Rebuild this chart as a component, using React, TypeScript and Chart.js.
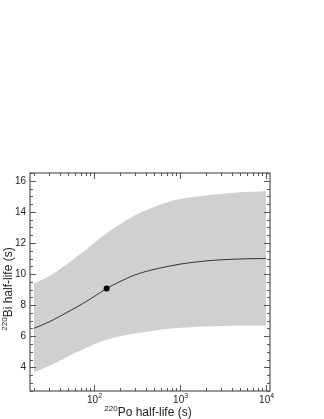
import React, { useEffect, useRef } from "react";
import { Chart, registerables } from "chart.js";

Chart.register(...registerables);

// Po-220 half-life (s), x positions of the curves
const xValues = [20, 30, 40, 55, 75, 100, 140, 200, 300, 450, 700, 1000, 1500, 2500, 4000, 6500, 10000];
// Bi-220 half-life (s): central curve and band limits
const centerValues = [6.51, 6.92, 7.28, 7.7, 8.12, 8.55, 9.07, 9.52, 9.95, 10.24, 10.48, 10.64, 10.77, 10.89, 10.95, 10.99, 11.0];
const upperValues = [9.4, 9.86, 10.31, 10.88, 11.43, 12.0, 12.62, 13.21, 13.78, 14.22, 14.61, 14.82, 14.97, 15.12, 15.22, 15.29, 15.34];
const lowerValues = [3.68, 4.08, 4.42, 4.83, 5.17, 5.49, 5.78, 6.0, 6.18, 6.32, 6.46, 6.54, 6.6, 6.65, 6.68, 6.69, 6.7];
// marked point
const markX = [140];
const markY = [9.07];
// ticks
const yTickValues = [4, 6, 8, 10, 12, 14, 16];
const xMajorTicks = [100, 1000, 10000];
const xMajorLabelBase = ["10", "10", "10"];
const xMajorLabelExp = ["2", "3", "4"];
const yTitleSup = "220";
const yTitleMain = "Bi half-life (s)";
const xTitleSup = "220";
const xTitleMain = "Po half-life (s)";

const FONT = "'Liberation Sans', Arial, Helvetica, sans-serif";

export default function App() {
  const ref = useRef<HTMLCanvasElement | null>(null);

  useEffect(() => {
    const canvas = ref.current;
    if (!canvas) return;

    const framePlugin = {
      id: "frame",
      afterDraw(chart: any) {
        const ctx = chart.ctx as CanvasRenderingContext2D;
        const { left, right, top, bottom } = chart.chartArea;
        const xs = chart.scales.x;
        const ys = chart.scales.y;
        ctx.save();
        ctx.strokeStyle = "#555";
        ctx.lineWidth = 1.2;
        ctx.strokeRect(left, top, right - left, bottom - top);
        ctx.lineWidth = 1;
        // y ticks
        const yMin = ys.min, yMax = ys.max;
        for (let v = Math.ceil(yMin * 2) / 2; v <= yMax + 1e-9; v += 0.5) {
          const py = Math.round(ys.getPixelForValue(v)) + 0.5;
          const major = Math.abs(v / 2 - Math.round(v / 2)) < 1e-9;
          const len = major ? 6 : 3;
          ctx.beginPath();
          ctx.moveTo(left, py); ctx.lineTo(left + len, py);
          ctx.moveTo(right, py); ctx.lineTo(right - len, py);
          ctx.stroke();
        }
        // x ticks (log)
        for (let d = 1; d <= 4; d++) {
          for (let m = 1; m <= 9; m++) {
            const v = m * Math.pow(10, d);
            if (v < xs.min || v > xs.max) continue;
            const px = Math.round(xs.getPixelForValue(v)) + 0.5;
            const len = m === 1 ? 6 : 3;
            ctx.beginPath();
            ctx.moveTo(px, bottom); ctx.lineTo(px, bottom - len);
            ctx.moveTo(px, top); ctx.lineTo(px, top + len);
            ctx.stroke();
          }
        }
        // x tick labels with superscripts
        ctx.fillStyle = "#222";
        ctx.textBaseline = "alphabetic";
        ctx.textAlign = "left";
        xMajorTicks.forEach((v, i) => {
          const px = xs.getPixelForValue(v);
          ctx.font = `10px ${FONT}`;
          const wb = ctx.measureText(xMajorLabelBase[i]).width;
          ctx.font = `7px ${FONT}`;
          const we = ctx.measureText(xMajorLabelExp[i]).width;
          const x0 = px - (wb + we) / 2 + 0.5;
          ctx.font = `10px ${FONT}`;
          ctx.fillText(xMajorLabelBase[i], x0, bottom + 12);
          ctx.font = `7px ${FONT}`;
          ctx.fillText(xMajorLabelExp[i], x0 + wb, bottom + 7);
        });
        // x title
        {
          ctx.font = `8px ${FONT}`;
          const ws = ctx.measureText(xTitleSup).width;
          ctx.font = `12px ${FONT}`;
          const wm = ctx.measureText(xTitleMain).width;
          const cx = (left + right) / 2 - 2;
          const x0 = cx - (ws + wm) / 2;
          ctx.font = `8px ${FONT}`;
          ctx.fillText(xTitleSup, x0, bottom + 20);
          ctx.font = `12px ${FONT}`;
          ctx.fillText(xTitleMain, x0 + ws, bottom + 25);
        }
        // y title
        {
          ctx.translate(12, (top + bottom) / 2 + 7);
          ctx.rotate(-Math.PI / 2);
          ctx.font = `8px ${FONT}`;
          const ws = ctx.measureText(yTitleSup).width;
          ctx.font = `12px ${FONT}`;
          const wm = ctx.measureText(yTitleMain).width;
          const x0 = -(ws + wm) / 2;
          ctx.font = `8px ${FONT}`;
          ctx.fillText(yTitleSup, x0, -5);
          ctx.font = `12px ${FONT}`;
          ctx.fillText(yTitleMain, x0 + ws, 0);
        }
        ctx.restore();
      },
    };

    const toPts = (ys: number[]) => xValues.map((x, i) => ({ x, y: ys[i] }));

    const chart = new Chart(canvas, {
      type: "line",
      data: {
        datasets: [
          {
            data: toPts(upperValues),
            borderWidth: 0,
            borderColor: "rgba(0,0,0,0)",
            backgroundColor: "#d0d0d0",
            pointRadius: 0,
            fill: "+1",
            cubicInterpolationMode: "monotone",
            order: 3,
          },
          {
            data: toPts(lowerValues),
            borderWidth: 0,
            borderColor: "rgba(0,0,0,0)",
            backgroundColor: "#d0d0d0",
            pointRadius: 0,
            fill: false,
            cubicInterpolationMode: "monotone",
            order: 3,
          },
          {
            data: toPts(centerValues),
            borderWidth: 1,
            borderColor: "#333",
            pointRadius: 0,
            fill: false,
            cubicInterpolationMode: "monotone",
            order: 2,
          },
          {
            data: markX.map((x, i) => ({ x, y: markY[i] })),
            showLine: false,
            pointRadius: 3,
            pointBackgroundColor: "#000",
            pointBorderColor: "#000",
            pointBorderWidth: 0,
            order: 1,
          },
        ],
      } as any,
      options: {
        animation: false,
        responsive: false,
        maintainAspectRatio: false,
        events: [],
        layout: { padding: { left: 0, top: 173, right: 54, bottom: 0 } },
        plugins: { legend: { display: false }, tooltip: { enabled: false } },
        scales: {
          x: {
            type: "logarithmic",
            min: 18,
            max: 11100,
            grid: { display: false, drawTicks: false },
            border: { display: false },
            ticks: { display: false },
            afterFit: (axis: any) => { axis.height = 28; },
          },
          y: {
            type: "linear",
            min: 2.48,
            max: 16.5,
            grid: { display: false, drawTicks: false },
            border: { display: false },
            ticks: {
              padding: 4,
              color: "#222",
              font: { family: FONT, size: 10 },
            },
            afterBuildTicks: (axis: any) => {
              axis.ticks = yTickValues.map((v) => ({ value: v }));
            },
            afterFit: (axis: any) => { axis.width = 30; },
          },
        },
      } as any,
      plugins: [framePlugin],
    });
    return () => chart.destroy();
  }, []);

  return (
    <div style={{ position: "absolute", left: 0, top: 0, width: 324, height: 419, background: "#fff" }}>
      <canvas ref={ref} width={324} height={419} style={{ width: 324, height: 419, display: "block" }} />
    </div>
  );
}
